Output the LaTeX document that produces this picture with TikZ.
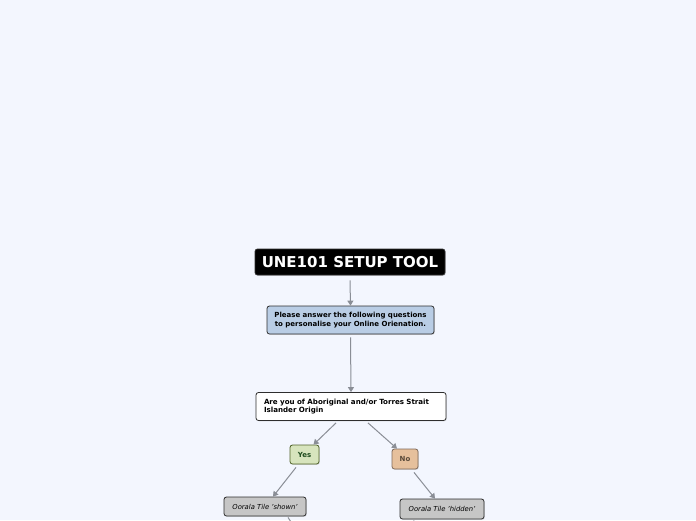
\documentclass[tikz,border=0pt]{standalone}
\usepackage{fontspec}
\setmainfont{DejaVu Sans}
\usetikzlibrary{arrows.meta,calc,shadows}
\definecolor{bgc}{HTML}{F3F6FE}
\definecolor{bluef}{HTML}{B9CDE5}
\definecolor{greenf}{HTML}{D7E4BD}
\definecolor{greend}{HTML}{4F6228}
\definecolor{greent}{HTML}{1E4B1E}
\definecolor{brownf}{HTML}{E6C09C}
\definecolor{brownd}{HTML}{7F6A5A}
\definecolor{brownt}{HTML}{5A4A3A}
\definecolor{greyf}{HTML}{C6C6C6}
\definecolor{arrc}{HTML}{8A8E96}
\definecolor{bord}{HTML}{2E2E2E}
\tikzset{
  box/.style={draw=bord, line width=0.8pt, rounded corners=2.5pt, inner sep=0pt,
    drop shadow={shadow xshift=0.8pt, shadow yshift=-0.8pt, opacity=0.25}},
  arr/.style={draw=arrc, line width=1pt, -{Triangle[length=5pt,width=6pt]}},
  ln/.style={draw=arrc, line width=1pt},
}
\begin{document}
\begin{tikzpicture}[x=1pt,y=-1pt]
\fill[bgc] (0,0) rectangle (696,520);
\useasboundingbox (0,0) rectangle (696,520);

\node[box, fill=black, text=white, minimum width=190pt, minimum height=26pt,
  font=\fontsize{15}{17}\selectfont\bfseries] (title) at (350,262) {UNE101 SETUP TOOL};

\node[box, fill=bluef, minimum width=167pt, minimum height=28pt, align=center,
  font=\fontsize{7}{9}\selectfont\bfseries] (intro) at (350.5,320)
  {Please answer the following questions\\to personalise your Online Orienation.};

\node[box, fill=white, minimum width=190pt, minimum height=28pt, align=left,
  text width=174pt, font=\fontsize{7.1}{8.2}\selectfont\bfseries] (q) at (351,406.5)
  {Are you of Aboriginal and/or Torres Strait\\Islander Origin};

\node[box, fill=greenf, draw=greend, text=greent, minimum width=29pt, minimum height=19pt,
  font=\fontsize{7}{8}\selectfont\bfseries] (yes) at (304.5,454.5) {Yes};

\node[box, fill=brownf, draw=brownd, text=brownt, minimum width=26pt, minimum height=20pt,
  font=\fontsize{7}{8}\selectfont\bfseries] (no) at (405,459) {No};

\node[box, fill=greyf, minimum width=82pt, minimum height=19pt,
  font=\fontsize{6.8}{8}\selectfont\itshape] (shown) at (265,506.5) {Oorala Tile 'shown'};

\node[box, fill=greyf, minimum width=84pt, minimum height=20pt,
  font=\fontsize{6.8}{8}\selectfont\itshape] (hidden) at (442,509) {Oorala Tile 'hidden'};

\coordinate (shownend) at (295,528);
\coordinate (hiddenend) at (412,528);

\draw[arr] ($(title.south)+(0,5)$) -- (intro.north);
\draw[arr] ($(intro.south)+(0,3)$) -- (q.north);
\draw[arr] ($(q.south)+(-15,2)$) -- ($(yes.north)+(9,0)$);
\draw[arr] ($(q.south)+(17,2)$) -- ($(no.north)+(-8,0)$);
\draw[arr] ($(yes.south)+(-8.5,3)$) -- ($(shown.north)+(8,0)$);
\draw[arr] ($(no.south)+(9,3)$) -- ($(hidden.north)+(-7,0)$);
\draw[ln] ($(shown.south)+(23,1)$) -- (shownend);
\draw[ln] ($(hidden.south)+(-28,1)$) -- (hiddenend);
\end{tikzpicture}
\end{document}
